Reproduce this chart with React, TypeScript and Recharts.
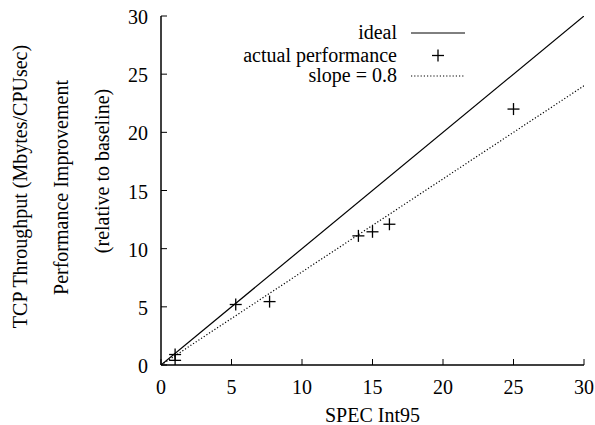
import React from 'react';
import { ComposedChart, Scatter, XAxis, YAxis, Label, Customized } from 'recharts';

// ---- data ----
const axisTicks = [0, 5, 10, 15, 20, 25, 30];
const specInt95 = [1.0, 1.0, 5.3, 7.7, 14.0, 15.0, 16.2, 25.0];
const throughput = [0.9, 0.4, 5.2, 5.45, 11.1, 11.45, 12.1, 22.0];
const idealX = [0, 30];
const idealY = [0, 30];
const slopeX = [0, 30];
const slopeY = [0, 24];
const legendLabels = ['ideal', 'actual performance', 'slope = 0.8'];
const yLabelLines = ['TCP Throughput (Mbytes/CPUsec)', 'Performance Improvement', '(relative to baseline)'];
const xLabel = 'SPEC Int95';

const pointData = specInt95.map((x, i) => ({ x, y: throughput[i] }));
const idealData = idealX.map((x, i) => ({ x, y: idealY[i] }));
const slopeData = slopeX.map((x, i) => ({ x, y: slopeY[i] }));

const FONT = 'Liberation Serif, Times New Roman, Times, DejaVu Serif, serif';
const FS = 20;
const TS = { fontFamily: FONT, fontSize: FS, fill: '#000' };

const BottomTick = (p: any) => (
  <g>
    <line x1={p.x} y1={p.y} x2={p.x} y2={p.y - 6} stroke="#000" strokeWidth={1} />
    <text x={p.x} y={p.y + 29} textAnchor="middle" style={TS}>
      {p.payload.value}
    </text>
  </g>
);
const TopTick = (p: any) => (
  <line x1={p.x} y1={p.y} x2={p.x} y2={p.y + 6} stroke="#000" strokeWidth={1} />
);
const LeftTick = (p: any) => (
  <g>
    <line x1={p.x} y1={p.y} x2={p.x + 6} y2={p.y} stroke="#000" strokeWidth={1} />
    <text x={p.x - 13} y={p.y + 8} textAnchor="end" style={TS}>
      {p.payload.value}
    </text>
  </g>
);
const RightTick = (p: any) => (
  <line x1={p.x} y1={p.y} x2={p.x - 6} y2={p.y} stroke="#000" strokeWidth={1} />
);

const Cross = (p: any) => {
  const { cx, cy } = p;
  if (cx == null || cy == null) return <g />;
  return (
    <g>
      <line x1={cx - 6} y1={cy} x2={cx + 6} y2={cy} stroke="#000" strokeWidth={1.3} />
      <line x1={cx} y1={cy - 6} x2={cx} y2={cy + 6} stroke="#000" strokeWidth={1.3} />
    </g>
  );
};
const NoShape = () => <g />;

const YLabelContent = (props: any) => {
  const vb = props.viewBox || { x: 0, y: 0, width: 0, height: 0 };
  const cy = vb.y + vb.height / 2;
  const xs = [vb.x + 27, vb.x + 68, vb.x + 109];
  const cys = [cy - 4, cy - 3, cy - 19.5];
  return (
    <g>
      {yLabelLines.map((t, i) => (
        <text
          key={i}
          x={xs[i]}
          y={cys[i]}
          transform={`rotate(-90 ${xs[i]} ${cys[i]})`}
          textAnchor="middle"
          style={TS}
        >
          {t}
        </text>
      ))}
    </g>
  );
};

const XLabelContent = (props: any) => {
  const vb = props.viewBox || { x: 0, y: 0, width: 0, height: 0 };
  return (
    <text x={vb.x + vb.width / 2} y={vb.y + 57} textAnchor="middle" style={TS}>
      {xLabel}
    </text>
  );
};

const LegendBox = () => {
  const textRight = 397;
  const sx1 = 411;
  const sx2 = 465;
  const rows = [33, 55.5, 76];
  return (
    <g>
      {legendLabels.map((t, i) => (
        <text key={i} x={textRight} y={rows[i] + 6} textAnchor="end" style={TS}>
          {t}
        </text>
      ))}
      <line x1={sx1} y1={rows[0]} x2={sx2} y2={rows[0]} stroke="#000" strokeWidth={1} />
      <Cross cx={(sx1 + sx2) / 2} cy={rows[1]} />
      <line x1={sx1} y1={rows[2]} x2={sx2} y2={rows[2]} stroke="#000" strokeWidth={1.2} strokeDasharray="1.2 2" />
    </g>
  );
};

export default function App() {
  return (
    <div style={{ position: 'absolute', left: 0, top: 0, background: '#fff', fontFamily: FONT }}>
      <ComposedChart
        width={595}
        height={425}
        margin={{ top: 16, right: 11, bottom: 0, left: 0 }}
        style={{ background: '#fff', fontFamily: FONT }}
      >
        <XAxis
          xAxisId="b"
          dataKey="x"
          type="number"
          domain={[0, 30]}
          ticks={axisTicks}
          orientation="bottom"
          height={60}
          tickSize={0}
          tickMargin={0}
          tickLine={false}
          tick={<BottomTick />}
          axisLine={{ stroke: '#000', strokeWidth: 1.5 }}
          allowDataOverflow
        >
          <Label content={<XLabelContent />} />
        </XAxis>
        <XAxis
          xAxisId="t"
          dataKey="x"
          type="number"
          domain={[0, 30]}
          ticks={axisTicks}
          orientation="top"
          height={0}
          tickSize={0}
          tickMargin={0}
          tickLine={false}
          tick={<TopTick />}
          axisLine={{ stroke: '#000', strokeWidth: 1.5 }}
          allowDataOverflow
        />
        <YAxis
          yAxisId="l"
          dataKey="y"
          type="number"
          domain={[0, 30]}
          ticks={axisTicks}
          orientation="left"
          width={161}
          tickSize={0}
          tickMargin={0}
          tickLine={false}
          tick={<LeftTick />}
          axisLine={{ stroke: '#000', strokeWidth: 1.5 }}
          allowDataOverflow
        >
          <Label content={<YLabelContent />} />
        </YAxis>
        <YAxis
          yAxisId="r"
          dataKey="y"
          type="number"
          domain={[0, 30]}
          ticks={axisTicks}
          orientation="right"
          width={0}
          tickSize={0}
          tickMargin={0}
          tickLine={false}
          tick={<RightTick />}
          axisLine={{ stroke: '#000', strokeWidth: 1.5 }}
          allowDataOverflow
        />
        <Scatter
          name="ideal"
          data={idealData}
          xAxisId="b"
          yAxisId="l"
          line={{ stroke: '#000', strokeWidth: 1.2 }}
          shape={<NoShape />}
          isAnimationActive={false}
        />
        <Scatter
          name="slope = 0.8"
          data={slopeData}
          xAxisId="b"
          yAxisId="l"
          line={{ stroke: '#000', strokeWidth: 1.2, strokeDasharray: '1.2 2' }}
          shape={<NoShape />}
          isAnimationActive={false}
        />
        <Scatter
          name="actual performance"
          data={pointData}
          xAxisId="b"
          yAxisId="l"
          shape={<Cross />}
          isAnimationActive={false}
        />
        <Customized component={<LegendBox />} />
      </ComposedChart>
    </div>
  );
}
